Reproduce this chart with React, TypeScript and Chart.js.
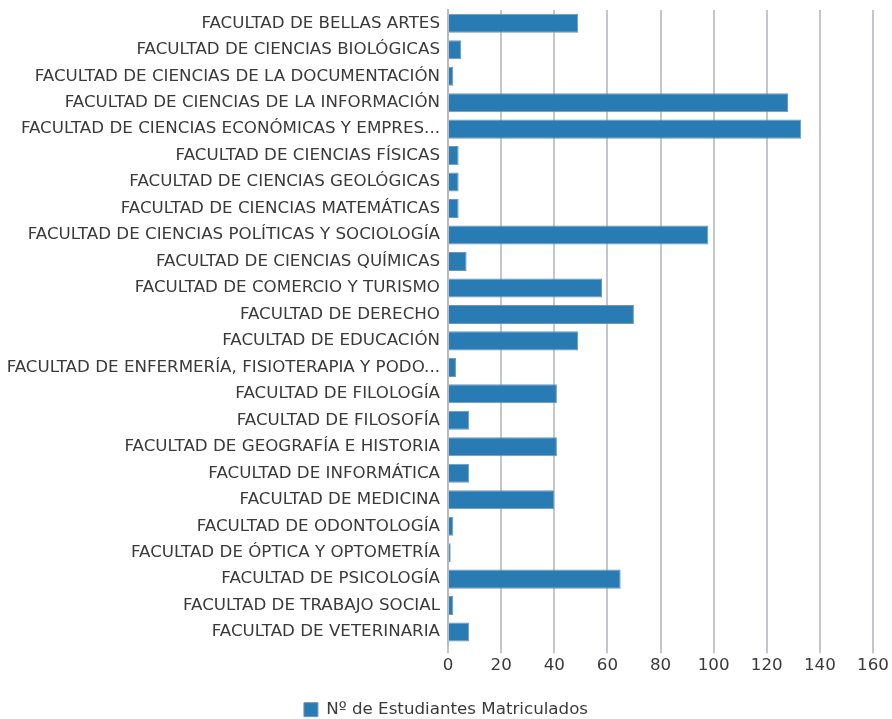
import React, { useEffect, useRef } from "react";
import { Chart, registerables } from "chart.js";

Chart.register(...registerables);

const categories: string[] = [
  "FACULTAD DE BELLAS ARTES",
  "FACULTAD DE CIENCIAS BIOLÓGICAS",
  "FACULTAD DE CIENCIAS DE LA DOCUMENTACIÓN",
  "FACULTAD DE CIENCIAS DE LA INFORMACIÓN",
  "FACULTAD DE CIENCIAS ECONÓMICAS Y EMPRES...",
  "FACULTAD DE CIENCIAS FÍSICAS",
  "FACULTAD DE CIENCIAS GEOLÓGICAS",
  "FACULTAD DE CIENCIAS MATEMÁTICAS",
  "FACULTAD DE CIENCIAS POLÍTICAS Y SOCIOLOGÍA",
  "FACULTAD DE CIENCIAS QUÍMICAS",
  "FACULTAD DE COMERCIO Y TURISMO",
  "FACULTAD DE DERECHO",
  "FACULTAD DE EDUCACIÓN",
  "FACULTAD DE ENFERMERÍA, FISIOTERAPIA Y PODO...",
  "FACULTAD DE FILOLOGÍA",
  "FACULTAD DE FILOSOFÍA",
  "FACULTAD DE GEOGRAFÍA E HISTORIA",
  "FACULTAD DE INFORMÁTICA",
  "FACULTAD DE MEDICINA",
  "FACULTAD DE ODONTOLOGÍA",
  "FACULTAD DE ÓPTICA Y OPTOMETRÍA",
  "FACULTAD DE PSICOLOGÍA",
  "FACULTAD DE TRABAJO SOCIAL",
  "FACULTAD DE VETERINARIA",
];

const estudiantes: number[] = [
  49, 5, 2, 128, 133, 4, 4, 4, 98, 7, 58, 70, 49, 3, 41, 8, 41, 8, 40, 2, 1, 65, 2, 8,
];

const seriesLabel = "Nº de Estudiantes Matriculados";
const xMin = 0;
const xMax = 160;
const xStep = 20;

export default function App() {
  const canvasRef = useRef<HTMLCanvasElement | null>(null);

  useEffect(() => {
    if (!canvasRef.current) return;
    const font = "'DejaVu Sans', sans-serif";
    const chart = new Chart(canvasRef.current, {
      type: "bar",
      data: {
        labels: categories,
        datasets: [
          {
            label: seriesLabel,
            data: estudiantes,
            backgroundColor: "#287cb3",
            borderColor: "#7196b4",
            borderWidth: 1,
            barPercentage: 0.72,
            categoryPercentage: 1,
          },
        ],
      },
      options: {
        indexAxis: "y",
        animation: false,
        responsive: true,
        maintainAspectRatio: false,
        layout: { padding: { top: 2, right: 0, left: 0, bottom: -9 } },
        plugins: {
          tooltip: { enabled: false },
          legend: {
            position: "bottom",
            labels: {
              boxWidth: 14,
              boxHeight: 14,
              padding: 0,
              color: "#3a3a3a",
              font: { family: font, size: 16.7 },
            },
          },
        },
        scales: {
          x: {
            min: xMin,
            max: xMax,
            ticks: {
              stepSize: xStep,
              color: "#3a3a3a",
              font: { family: font, size: 16.7 },
              padding: 2,
            },
            grid: {
              color: "#c3c6cb",
              lineWidth: 2,
              tickLength: 8,
              drawTicks: true,
            },
            border: { display: false },
            afterFit: (scale: any) => {
              scale.height = 56;
              scale.paddingRight = 19;
            },
          },
          y: {
            ticks: {
              color: "#3a3a3a",
              font: { family: font, size: 16.7 },
              padding: 0,
              autoSkip: false,
            },
            grid: { display: false },
            border: { display: true, color: "#b8bcc2", width: 2 },
            afterFit: (scale: any) => {
              scale.width = 448;
            },
          },
        },
      },
    });
    return () => chart.destroy();
  }, []);

  return (
    <div style={{ position: "fixed", left: 0, top: 0, width: 892, height: 719, background: "#fff" }}>
      <canvas ref={canvasRef} />
    </div>
  );
}
